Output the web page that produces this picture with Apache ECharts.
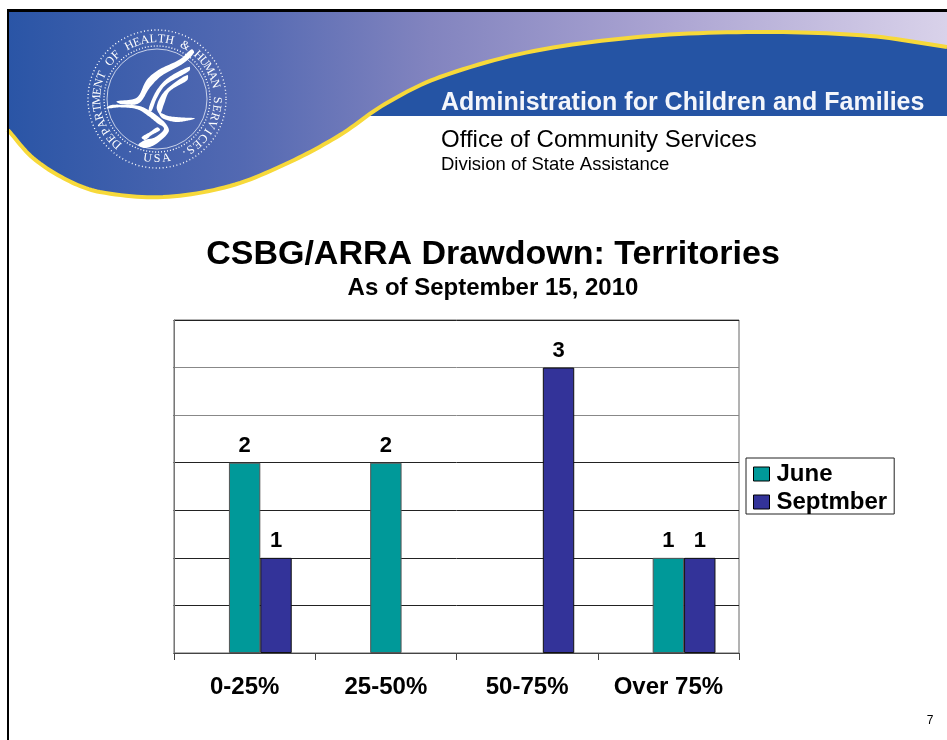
<!DOCTYPE html>
<html><head><meta charset="utf-8">
<style>html,body{margin:0;padding:0;background:#fff}#c{width:947px;height:740px}</style>
<script src="https://cdn.jsdelivr.net/npm/echarts@6/dist/echarts.min.js"></script></head>
<body><div id="c"></div>
<script>
const categories = ['0-25%','25-50%','50-75%','Over 75%'];
const june = [2,2,null,1];
const september = [1,null,3,1];
const spacer = [null,null,null,null];
const titleText = 'CSBG/ARRA Drawdown: Territories';
const subtitleText = 'As of September 15, 2010';
const FONT = '"Liberation Sans", Arial, sans-serif';

// decorative header geometry
const curve = [[8,130],[33,158],[67,180],[100,192],[163,197],[230,186],[290,162],[340,135],[385,104],[440,77],[534,51],[650,36],[766,32],[870,36],[947,47]];
const z = p => [100+p[0]/3, 30+p[1]/3];
const eagle = [
 [[275,58],[240,88],[175,120],[140,150],[110,203],[50,214],[62,222],[116,220],[150,172],[185,137],[250,100],[282,68]],
 [[268,110],[205,143],[172,178],[152,218],[146,242],[154,244],[170,205],[197,165],[268,122]],
 [[262,135],[215,165],[185,195],[170,232],[180,252],[192,222],[207,186],[236,166],[262,150]],
 [[20,235],[60,232],[112,238],[145,258],[170,278],[192,296],[165,322],[135,330],[115,345],[135,354],[168,342],[206,305],[198,282],[172,258],[152,244],[118,228],[60,224],[30,226]],
 [[178,248],[205,258],[240,262],[285,265],[262,272],[230,276],[200,270],[184,262]],
 [[125,322],[150,306],[172,292],[180,300],[155,315],[135,330]]
];
const sealCx=157, sealCy=99;
function dense(pts,closed){
  const n=pts.length, out=[];
  const P=i=>closed?pts[(i+n)%n]:pts[Math.min(Math.max(i,0),n-1)];
  const dist=(a,b)=>Math.hypot(a[0]-b[0],a[1]-b[1])||1;
  const T=i=>{const a=P(i-1),c=P(i+1),d=dist(a,P(i))+dist(P(i),c);return [(c[0]-a[0])/d,(c[1]-a[1])/d];};
  const segs=closed?n:n-1;
  for(let i=0;i<segs;i++){
    const b=P(i),c=P(i+1),h=dist(b,c),m0=T(i),m1=T(i+1);
    for(let k=0;k<12;k++){const t=k/12,t2=t*t,t3=t2*t;
      out.push([0,1].map(j=>(2*t3-3*t2+1)*b[j]+(t3-2*t2+t)*h*m0[j]+(-2*t3+3*t2)*c[j]+(t3-t2)*h*m1[j]));}
  }
  if(!closed)out.push(pts[n-1]);
  return out;
}
const curveD=dense(curve,false);
const g=[];
g.push({type:'polygon',z:0,shape:{points:curveD.concat([[947,12],[8,12]])},
 style:{fill:{type:'linear',x:0,y:0,x2:1,y2:0,global:false,colorStops:[{offset:0,color:'#2a55a6'},{offset:.25,color:'#5369b2'},{offset:.45,color:'#8284bf'},{offset:.7,color:'#aba4d2'},{offset:1,color:'#d9d2ea'}]}}});
g.push({type:'polygon',z:1,shape:{points:curveD.filter(p=>p[0]>=364&&p[1]<=116).concat([[947,116],[364,116]])},style:{fill:'#2554a4'}});
g.push({type:'polyline',z:2,shape:{points:curveD},style:{fill:'none',stroke:'#f7d93a',lineWidth:4}});
g.push({type:'rect',z:3,shape:{x:7,y:9,width:940,height:3},style:{fill:'#000'}});
g.push({type:'rect',z:3,shape:{x:7,y:9,width:2,height:731},style:{fill:'#000'}});
// seal
[[69,[1,2.5]],[53,[1,2]]].forEach(r=>g.push({type:'circle',z:4,shape:{cx:sealCx,cy:sealCy,r:r[0]},style:{fill:'none',stroke:'#fff',lineWidth:1.4,lineDash:r[1]}}));
g.push({type:'circle',z:4,shape:{cx:sealCx,cy:sealCy,r:50},style:{fill:'none',stroke:'#e8ecf6',lineWidth:.8}});
function arcText(s,startDeg,stepDeg,rad,flip){
  [...s].forEach((ch,i)=>{
    const deg=startDeg+i*stepDeg, t=deg*Math.PI/180;
    g.push({type:'text',z:5,x:sealCx+rad*Math.sin(t),y:sealCy-rad*Math.cos(t),rotation:-t+(flip?Math.PI:0),
      style:{text:ch,fill:'#fff',font:'12px "Liberation Serif", serif',textAlign:'center',textVerticalAlign:'middle'}});
  });
}
arcText('DEPARTMENT OF HEALTH & HUMAN SERVICES',-138,7.9,60,false);
arcText('· USA ·',207,-9,60,true);
eagle.forEach(e=>g.push({type:'polygon',z:5,shape:{points:dense(e,true).map(z)},style:{fill:'#fff'}}));
// header text
g.push({type:'text',z:6,x:441,y:103,style:{text:'Administration for Children and Families',fill:'#f4f6fb',font:'bold 25px '+FONT,textVerticalAlign:'middle'}});
g.push({type:'text',z:6,x:441,y:140,style:{text:'Office of Community Services',fill:'#000',font:'24px '+FONT,textVerticalAlign:'middle'}});
g.push({type:'text',z:6,x:441,y:165,style:{text:'Division of State Assistance',fill:'#000',font:'18.5px '+FONT,textVerticalAlign:'middle'}});
g.push({type:'text',z:6,x:930,y:721,style:{text:'7',fill:'#000',font:'12px '+FONT,textAlign:'center',textVerticalAlign:'middle'}});

const labelCfg={show:true,position:'top',distance:6,color:'#000',fontFamily:FONT,fontWeight:'bold',fontSize:22};
const chart=echarts.init(document.getElementById('c'),null,{renderer:'canvas'});
chart.setOption({
 animation:false,backgroundColor:'#fff',
 title:{text:titleText,subtext:subtitleText,left:488,top:233,textAlign:'center',itemGap:4,
  textStyle:{fontFamily:FONT,fontWeight:'bold',fontSize:34,color:'#000'},
  subtextStyle:{fontFamily:FONT,fontWeight:'bold',fontSize:24,color:'#000'}},
 legend:{left:746,top:458,orient:'vertical',data:['June','Septmber'],icon:'rect',itemWidth:16,itemHeight:14,itemGap:4,itemStyle:{borderColor:'#000',borderWidth:1},
  padding:[4,7,0,7],borderColor:'#222',borderWidth:1,backgroundColor:'#fff',textStyle:{fontFamily:FONT,fontWeight:'bold',fontSize:24,color:'#000',padding:[0,0,0,2]},selectedMode:false},
 grid:{left:174,right:208,top:320,bottom:87,show:true,borderColor:'#666',borderWidth:1,containLabel:false},
 xAxis:{type:'category',data:categories,axisLine:{lineStyle:{color:'#444'}},axisTick:{show:true,interval:0,length:7,alignWithLabel:false,lineStyle:{color:'#444'}},
  axisLabel:{interval:0,color:'#000',fontFamily:FONT,fontWeight:'bold',fontSize:24,margin:22}},
 yAxis:{type:'value',min:0,max:3.5,interval:.5,axisLabel:{show:false},axisLine:{show:true,lineStyle:{color:'#777'}},axisTick:{show:true,length:1,lineStyle:{color:'#777'}},
  splitLine:{lineStyle:{color:['#222','#222','#222','#222','#222','#888','#888','#222'],width:1}}},
 series:[
  {name:'spacer',type:'bar',data:spacer,barWidth:31.4,barGap:0},
  {name:'June',type:'bar',data:june,barWidth:31.4,barGap:0,itemStyle:{color:'#009999',borderColor:'#555',borderWidth:1},label:labelCfg},
  {name:'Septmber',type:'bar',data:september,barWidth:31.4,barGap:0,itemStyle:{color:'#333399',borderColor:'#111',borderWidth:1},label:labelCfg}
 ],
 graphic:{elements:g}
});
</script></body></html>
